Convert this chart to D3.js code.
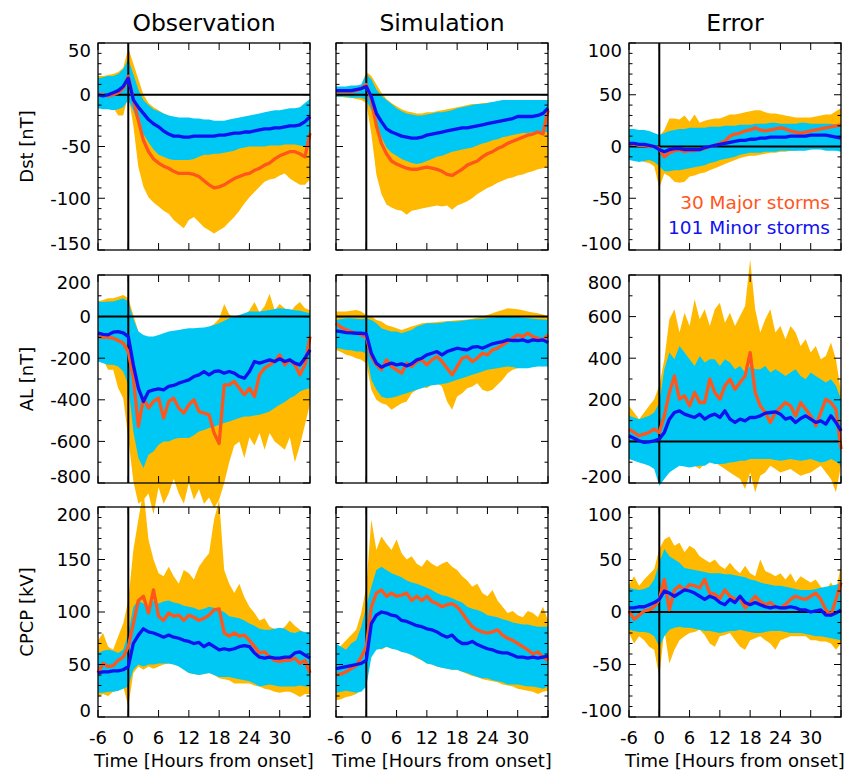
<!DOCTYPE html>
<html>
<head>
<meta charset="utf-8">
<script src="https://cdn.jsdelivr.net/npm/d3@7"></script>
<style>
  body { margin: 0; background: #fff; }
  text { font-family: "DejaVu Sans", sans-serif; }
</style>
</head>
<body>
<svg id="chart" width="850" height="771"></svg>
<script>
// hours from storm onset
const hours = [-6,-5,-4,-3,-2,-1,0,1,2,3,4,5,6,7,8,9,10,11,12,13,14,15,16,17,18,19,20,21,22,23,24,25,26,27,28,29,30,31,32,33,34,35,36];

// ---- Dst observation
const obsDstMinMed = [0,-1,0,2,4,8,16, -5,-12,-18,-24,-28,-31,-35,-38,-40,-40,-41,-41, -40,-40,-40,-40,-40,-39,-39,-38,-37,-37,-36,-36, -35,-34,-33,-33,-32,-32,-31,-30,-30,-29,-26,-21];
const obsDstMajMed = [0,0,-1,0,2,6,18, -5,-25,-44,-55,-62,-66,-69,-71,-74,-76,-76,-76, -77,-79,-83,-87,-90,-89,-87,-84,-81,-79,-77,-76, -73,-71,-68,-66,-62,-59,-57,-55,-55,-57,-60,-37];
const obsDstMinHi = [16,17,18,18,20,25,34, 20,5,-5,-10,-14,-16,-18,-20,-21,-22,-22,-22, -23,-23,-24,-24,-25,-25,-25,-24,-23,-22,-21,-20, -19,-18,-17,-16,-15,-15,-14,-13,-13,-12,-8,-4];
const obsDstMinLo = [-13,-14,-14,-15,-14,-12,-5, -15,-28,-38,-46,-53,-58,-60,-62,-63,-63,-63,-63, -62,-60,-58,-58,-57,-57,-56,-55,-54,-52,-51,-50, -50,-50,-50,-49,-49,-49,-48,-48,-48,-49,-50,-50];
const obsDstMajHi = [18,18,19,20,22,26,45, 30,15,0,-8,-12,-15,-18,-20,-22,-24,-25,-26, -27,-28,-29,-30,-31,-31,-30,-29,-28,-27,-26,-25, -24,-23,-22,-21,-20,-19,-18,-18,-17,-17,-12,-8];
const obsDstMajLo = [-5,-6,-8,-12,-20,-20,0, -30,-70,-89,-99,-104,-108,-112,-115,-121,-125,-129,-121, -118,-123,-128,-131,-134,-131,-128,-123,-118,-112,-105,-99, -94,-89,-84,-82,-81,-78,-76,-81,-84,-87,-87,-82];

// ---- Dst simulation
const simDstMinMed = [4,4,4,4,5,6,8, -2,-18,-26,-33,-36,-38,-40,-41,-42,-42,-41,-39, -38,-37,-36,-35,-34,-33,-32,-32,-31,-30,-29,-28, -27,-26,-25,-24,-23,-21,-21,-21,-21,-20,-18,-13];
const simDstMajMed = [3,3,3,3,4,6,10, -5,-30,-47,-57,-64,-67,-69,-71,-72,-72,-71,-70, -71,-72,-74,-77,-78,-75,-72,-68,-66,-64,-60,-57, -55,-52,-50,-47,-45,-43,-41,-39,-38,-36,-38,-15];
const simDstMinHi = [8,8,8,9,9,10,20, 15,5,-1,-5,-9,-13,-16,-18,-19,-20,-20,-19, -18,-17,-17,-16,-15,-13,-12,-11,-10,-9,-9,-8, -7,-6,-5,-5,-5,-5,-5,-5,-5,-5,-5,-5];
const simDstMinLo = [-2,-2,-2,-3,-3,-3,-5, -15,-28,-41,-51,-56,-59,-62,-64,-66,-67,-66,-64, -62,-60,-59,-57,-55,-54,-53,-52,-51,-49,-47,-46, -44,-43,-41,-40,-39,-38,-37,-37,-36,-36,-36,-36];
const simDstMajHi = [6,6,7,7,8,9,22, 18,10,2,-4,-8,-11,-14,-16,-17,-18,-18,-17, -17,-16,-15,-14,-13,-12,-11,-10,-9,-9,-8,-8, -7,-7,-6,-6,-6,-6,-6,-6,-6,-6,-6,-6];
const simDstMajLo = [-2,-2,-3,-3,-4,-5,-8, -38,-77,-96,-106,-109,-111,-112,-116,-112,-111,-110,-109, -108,-107,-108,-107,-111,-107,-105,-103,-100,-96,-93,-90, -88,-85,-83,-81,-80,-78,-77,-75,-74,-72,-71,-70];

// ---- Dst error
const errDstMinMed = [3,3,2,2,1,0,-3, -5,-3,-2,-2,-3,-3,-3,-3,-1,0,1,2, 3,4,5,6,6,7,7,8,8,9,9,9, 9,10,10,10,10,11,11,11,11,10,9,8];
const errDstMajMed = [3,2,1,1,0,0,-2, -10,-6,-4,-3,-5,-4,-4,-3,-2,0,1,3, 5,10,12,13,15,16,18,16,15,16,17,18, 17,15,14,13,14,15,16,17,18,19,20,21];
const errDstMinHi = [17,17,16,16,15,13,11, 13,15,16,17,17,18,18,18,18,19,19,19, 20,20,20,21,21,21,22,22,22,23,23,22, 22,22,22,23,23,22,22,22,22,22,21,21];
const errDstMinLo = [-13,-14,-15,-14,-13,-15,-19, -24,-24,-23,-23,-22,-21,-20,-19,-18,-16,-15,-13, -12,-11,-10,-8,-7,-6,-6,-6,-5,-5,-5,-4, -4,-4,-4,-4,-4,-3,-3,-3,-4,-4,-4,-5];
const errDstMajHi = [16,15,14,13,12,11,10, 16,27,27,26,30,24,31,23,25,26,27,27, 29,31,31,32,33,34,35,35,33,32,32,31, 30,29,28,28,28,28,29,30,31,31,34,37];
const errDstMajLo = [-11,-12,-13,-15,-16,-19,-40, -26,-29,-34,-35,-34,-29,-28,-26,-25,-23,-21,-19, -17,-15,-13,-11,-10,-9,-9,-8,-7,-6,-6,-5, -5,-4,-4,-3,-3,-3,-2,-2,-2,-1,-1,-2];

// ---- AL observation
const obsAlMinMed = [-80,-85,-88,-75,-72,-78,-96, -232,-344,-408,-360,-352,-347,-352,-336,-331,-320,-312,-304, -288,-280,-264,-280,-264,-261,-272,-264,-272,-288,-296,-264, -216,-224,-216,-208,-216,-203,-216,-208,-224,-232,-200,-160];
const obsAlMajMed = [-96,-100,-100,-104,-115,-128,-168, -296,-528,-392,-440,-408,-392,-488,-408,-392,-440,-464,-424, -400,-456,-464,-472,-560,-610,-328,-328,-312,-344,-376,-344, -384,-280,-248,-232,-216,-184,-232,-208,-232,-280,-232,-96];
const obsAlMinHi = [72,70,72,72,80,88,72, -10,-72,-88,-96,-96,-88,-80,-72,-68,-64,-60,-56, -56,-54,-52,-48,-40,-32,-20,-8,0,8,16,24, 24,24,28,32,36,40,38,35,30,28,22,16];
const obsAlMinLo = [-216,-224,-232,-232,-240,-264,-328, -552,-680,-728,-664,-648,-616,-600,-600,-590,-584,-584,-584, -570,-552,-545,-536,-530,-520,-512,-504,-496,-488,-480,-480, -475,-472,-465,-456,-440,-424,-410,-392,-380,-360,-350,-344];
const obsAlMajHi = [72,80,88,88,96,104,88, 8,-72,-104,-112,-115,-120,-118,-112,-104,-96,-92,-88, -80,-72,-60,-50,-35,-10,60,10,-10,-20,0,30, 70,20,50,110,30,60,40,20,50,70,40,30];
const obsAlMajLo = [-176,-208,-256,-256,-344,-392,-584, -792,-900,-880,-850,-950,-820,-900,-850,-780,-850,-900,-800, -880,-830,-900,-870,-920,-880,-800,-700,-620,-600,-680,-580, -620,-560,-640,-560,-600,-620,-640,-580,-700,-620,-520,-420];

// ---- AL simulation
const simAlMinMed = [-69,-72,-77,-78,-80,-80,-83, -176,-224,-243,-232,-224,-232,-227,-237,-227,-208,-200,-184, -176,-168,-184,-168,-160,-152,-157,-160,-147,-144,-152,-141, -131,-125,-120,-112,-115,-115,-112,-120,-112,-115,-112,-125];
const simAlMajMed = [-32,-51,-64,-72,-80,-88,-96, -192,-232,-256,-208,-240,-256,-272,-224,-240,-216,-208,-232, -208,-192,-216,-248,-280,-240,-200,-192,-216,-200,-176,-184, -160,-152,-136,-120,-104,-88,-96,-80,-96,-104,-112,-88];
const simAlMinHi = [-16,-12,-8,-8,-10,-13,-8, -16,-32,-56,-64,-72,-72,-80,-72,-64,-48,-40,-32, -32,-32,-30,-24,-24,-24,-20,-16,-14,-13,-12,-8, -6,-3,0,0,-3,-3,-5,-8,-10,-13,-14,-16];
const simAlMinLo = [-152,-155,-160,-162,-168,-168,-176, -304,-352,-384,-392,-390,-384,-376,-368,-360,-352,-344,-336, -330,-328,-324,-320,-312,-304,-296,-288,-280,-272,-264,-256, -252,-248,-244,-240,-242,-248,-248,-248,-244,-240,-240,-240];
const simAlMajHi = [24,24,24,28,32,24,8, 0,-16,-24,-40,-48,-56,-64,-56,-48,-40,-32,-30, -28,-26,-24,-22,-20,-18,-16,-14,-10,-6,0,8, 16,24,32,40,38,35,30,24,20,16,10,0];
const simAlMajLo = [-160,-170,-184,-190,-200,-208,-224, -352,-400,-416,-424,-448,-432,-416,-408,-368,-352,-336,-344, -328,-320,-336,-408,-448,-384,-368,-344,-336,-320,-352,-360, -352,-328,-304,-272,-256,-248,-240,-224,-232,-232,-240,-224];

// ---- AL error
const errAlMinMed = [27,15,3,-5,-2,3,11, 43,107,139,147,131,123,115,131,107,123,131,115, 147,107,91,107,99,115,115,123,136,139,142,131, 107,115,91,110,123,107,91,99,83,123,91,51];
const errAlMajMed = [59,43,27,35,43,59,43, 123,235,315,203,219,171,235,187,187,299,235,203, 267,299,251,283,315,427,235,171,139,91,139,163, 187,171,123,187,155,123,75,139,203,187,155,-37];
const errAlMinHi = [123,115,107,115,123,139,187, 347,427,395,459,427,395,363,411,379,395,395,363, 395,379,347,363,331,363,347,347,363,331,347,331, 315,331,347,315,299,331,315,299,283,299,267,203];
const errAlMinLo = [-85,-93,-101,-109,-117,-133,-213, -181,-149,-133,-117,-121,-125,-121,-117,-117,-101,-109,-109, -107,-101,-99,-93,-93,-85,-85,-85,-85,-85,-89,-93, -89,-85,-89,-93,-89,-85,-93,-101,-97,-85,-97,-117];
const errAlMajHi = [171,139,107,139,171,203,267, 395,587,635,523,619,555,683,587,635,555,635,667, 571,619,555,603,651,875,635,523,587,635,523,555, 491,555,523,459,491,427,459,395,411,475,395,235];
const errAlMajLo = [-53,-61,-69,-77,-85,-101,-181, -149,-117,-101,-85,-93,-101,-117,-133,-109,-85,-101,-117, -133,-149,-165,-181,-229,-149,-245,-165,-149,-117,-133,-149, -141,-133,-149,-165,-157,-149,-133,-117,-149,-181,-245,-117];

// ---- CPCP observation
const obsCpMinMed = [42,43,43,44,44,45,48, 70,78,84,81,80,78,76,78,76,75,73,72, 70,71,67,70,67,64,65,64,65,67,68,67, 61,57,56,57,56,56,57,57,61,62,59,56];
const obsCpMajMed = [42,51,48,49,54,57,67, 89,111,115,99,121,96,92,99,96,97,92,97, 95,92,94,97,102,103,80,77,80,77,78,73, 67,61,62,57,54,53,54,54,56,51,54,42];
const obsCpMinHi = [61,63,64,63,61,64,80, 105,111,108,105,111,108,110,111,109,108,106,105, 104,102,103,105,104,102,100,96,95,94,92,89, 87,84,83,83,84,85,84,81,80,82,81,80];
const obsCpMinLo = [23,23,24,24,25,27,29, 45,50,48,50,50,51,51,51,50,48,45,42, 41,40,41,42,40,38,38,38,37,36,35,34, 32,29,30,31,30,29,29,29,29,30,29,29];
const obsCpMajHi = [73,80,67,64,77,89,111, 159,188,216,169,150,137,134,143,134,127,140,137, 131,143,150,156,188,207,140,127,118,127,114,105, 99,92,94,86,84,83,86,92,87,83,80,76];
const obsCpMajLo = [19,22,20,24,25,29,10, 42,48,45,48,46,48,50,51,50,49,45,42, 41,40,41,42,40,37,36,35,32,32,32,32, 30,29,27,26,24,23,24,24,22,19,22,22];

// ---- CPCP simulation
const simCpMinMed = [46,47,48,49,50,51,54, 89,97,100,99,97,96,92,91,89,87,86,84, 83,81,78,76,78,73,70,70,72,69,67,65, 64,62,61,61,59,57,57,56,57,56,57,58];
const simCpMajMed = [40,41,43,46,49,57,67, 105,118,121,115,118,115,116,118,111,115,111,115, 110,108,105,107,108,105,99,92,86,83,81,80, 81,83,78,75,73,70,67,64,60,62,57,54];
const simCpMinHi = [70,67,64,70,73,86,105, 124,140,143,140,137,135,133,130,128,127,125,123, 121,118,116,115,113,111,109,105,103,102,100,97, 96,95,93,92,90,89,88,88,87,86,86,86];
const simCpMinLo = [23,24,25,24,23,24,29, 57,64,65,67,65,64,62,61,59,57,54,51, 50,48,47,46,45,45,43,42,40,38,37,37, 35,34,33,31,31,31,30,29,29,28,27,29];
const simCpMajHi = [64,68,73,78,83,99,124, 188,159,172,165,159,169,156,150,153,146,143,150, 146,143,146,148,143,140,134,130,124,127,118,115, 121,111,105,99,101,97,95,101,99,95,105,92];
const simCpMajLo = [16,17,19,20,22,26,38, 61,67,64,67,66,65,63,61,59,56,54,51, 50,48,47,46,45,45,43,41,39,38,36,35, 34,33,31,30,29,27,26,25,24,22,24,25];

// ---- CPCP error
const errCpMinMed = [4,4,5,5,7,9,12, 20,18,15,18,21,20,18,15,12,15,13,9, 7,12,9,15,9,7,9,7,5,4,5,4, 4,5,4,2,2,0,1,2,-3,-3,-1,2];
const errCpMajMed = [1,-7,-3,1,2,5,12, 31,2,21,25,21,26,25,23,31,18,17,13, 21,15,12,13,4,9,15,10,7,9,5,4, 7,12,15,13,12,15,18,12,2,-3,12,28];
const errCpMinHi = [23,22,21,22,24,31,47, 60,53,50,47,42,41,40,39,38,37,37,37, 36,36,35,34,33,31,30,28,27,26,25,25, 24,23,22,21,21,21,22,23,24,25,26,28];
const errCpMinLo = [-17,-18,-19,-19,-20,-23,-33, -23,-17,-15,-14,-15,-15,-16,-17,-18,-18,-19,-20, -19,-18,-18,-17,-18,-19,-20,-20,-19,-18,-18,-18, -19,-20,-20,-20,-21,-22,-23,-23,-24,-25,-26,-27];
const errCpMajHi = [26,34,25,31,36,41,60, 69,72,63,66,57,63,60,53,50,47,50,44, 41,47,41,37,44,37,34,50,39,37,34,37, 31,37,28,34,31,28,31,24,21,28,21,44];
const errCpMajLo = [-20,-30,-23,-27,-33,-36,-62, -17,-49,-36,-27,-23,-20,-19,-17,-22,-30,-33,-23, -22,-20,-27,-33,-36,-27,-25,-23,-27,-30,-36,-27, -25,-23,-23,-23,-23,-27,-27,-28,-28,-30,-36,-30];

// axis labels
const colTitles = ["Observation", "Simulation", "Error"];
const rowLabels = ["Dst [nT]", "AL [nT]", "CPCP [kV]"];
const xTickValues = [-6, 0, 6, 12, 18, 24, 30, 36];
const xTickLabels = ["-6", "0", "6", "12", "18", "24", "30", ""];
const legendLabels = ["30 Major storms", "101 Minor storms"];

// y axis set-up for each row (obs/sim share, error has its own)
const yAxes = [
  [ {domain: [-150, 50], major: 50, minor: 10}, {domain: [-150, 50], major: 50, minor: 10}, {domain: [-100, 100], major: 50, minor: 10} ],
  [ {domain: [-800, 200], major: 200, minor: 100}, {domain: [-800, 200], major: 200, minor: 100}, {domain: [-200, 800], major: 200, minor: 100} ],
  [ {domain: [0, 200], major: 50, minor: 10}, {domain: [0, 200], major: 50, minor: 10}, {domain: [-100, 100], major: 50, minor: 10} ]
];

const panelData = [
  [ [obsDstMajLo, obsDstMajHi, obsDstMinLo, obsDstMinHi, obsDstMajMed, obsDstMinMed],
    [simDstMajLo, simDstMajHi, simDstMinLo, simDstMinHi, simDstMajMed, simDstMinMed],
    [errDstMajLo, errDstMajHi, errDstMinLo, errDstMinHi, errDstMajMed, errDstMinMed] ],
  [ [obsAlMajLo, obsAlMajHi, obsAlMinLo, obsAlMinHi, obsAlMajMed, obsAlMinMed],
    [simAlMajLo, simAlMajHi, simAlMinLo, simAlMinHi, simAlMajMed, simAlMinMed],
    [errAlMajLo, errAlMajHi, errAlMinLo, errAlMinHi, errAlMajMed, errAlMinMed] ],
  [ [obsCpMajLo, obsCpMajHi, obsCpMinLo, obsCpMinHi, obsCpMajMed, obsCpMinMed],
    [simCpMajLo, simCpMajHi, simCpMinLo, simCpMinHi, simCpMajMed, simCpMinMed],
    [errCpMajLo, errCpMajHi, errCpMinLo, errCpMinHi, errCpMajMed, errCpMinMed] ]
];

const colX = [[98, 310], [336, 548], [629, 841]];
const rowY = [[43, 250], [275, 483], [507, 717]];

const majBand = "#ffb900";
const minBand = "#00c8f4";
const majLine = "#ff561c";
const minLine = "#1010f0";

const svg = d3.select("#chart");

function drawPanel(r, c) {
  const [lo1, hi1, lo2, hi2, med1, med2] = panelData[r][c];
  const ax = yAxes[r][c];
  const x = d3.scaleLinear().domain([-6, 36]).range(colX[c]);
  const y = d3.scaleLinear().domain(ax.domain).range([rowY[r][1], rowY[r][0]]);
  const g = svg.append("g");

  const band = (lo, hi) => d3.area()
    .x((d, i) => x(hours[i]))
    .y0((d, i) => y(lo[i]))
    .y1((d, i) => y(hi[i]));
  const line = vals => d3.line()
    .x((d, i) => x(hours[i]))
    .y((d, i) => y(vals[i]));

  g.append("path").attr("d", band(lo1, hi1)(hours)).attr("fill", majBand);
  g.append("path").attr("d", band(lo2, hi2)(hours)).attr("fill", minBand);

  // zero lines
  const [x0, x1] = colX[c];
  const [yt, yb] = rowY[r];
  if (ax.domain[0] < 0) {
    g.append("line").attr("x1", x0).attr("x2", x1).attr("y1", y(0)).attr("y2", y(0))
      .attr("stroke", "#000").attr("stroke-width", 2);
  }
  g.append("line").attr("x1", x(0)).attr("x2", x(0)).attr("y1", yt).attr("y2", yb)
    .attr("stroke", "#000").attr("stroke-width", 2);

  g.append("path").attr("d", line(med1)(hours)).attr("fill", "none")
    .attr("stroke", majLine).attr("stroke-width", 3.3).attr("stroke-linejoin", "round");
  g.append("path").attr("d", line(med2)(hours)).attr("fill", "none")
    .attr("stroke", minLine).attr("stroke-width", 3.3).attr("stroke-linejoin", "round");

  // frame
  g.append("rect").attr("x", x0).attr("y", yt).attr("width", x1 - x0).attr("height", yb - yt)
    .attr("fill", "none").attr("stroke", "#000").attr("stroke-width", 1.3);

  // y ticks (inward, both sides)
  const minorTicks = d3.range(ax.domain[0], ax.domain[1] + 0.001, ax.minor);
  const majorTicks = d3.range(ax.domain[0], ax.domain[1] + 0.001, ax.major);
  minorTicks.forEach(v => {
    const isMajor = majorTicks.includes(v);
    const len = isMajor ? 7 : 3.5;
    g.append("line").attr("x1", x0).attr("x2", x0 + len).attr("y1", y(v)).attr("y2", y(v))
      .attr("stroke", "#000").attr("stroke-width", 1);
    g.append("line").attr("x1", x1).attr("x2", x1 - len).attr("y1", y(v)).attr("y2", y(v))
      .attr("stroke", "#000").attr("stroke-width", 1);
  });
  if (c !== 1) {
    majorTicks.forEach(v => {
      const ty = Math.max(yt + 8, Math.min(yb - 6, y(v)));
      g.append("text").attr("x", x0 - 7).attr("y", ty).attr("dy", "0.35em")
        .attr("text-anchor", "end").attr("font-size", 18).text(String(v));
    });
  }

  // x ticks (inward, top and bottom)
  xTickValues.forEach((v, i) => {
    g.append("line").attr("x1", x(v)).attr("x2", x(v)).attr("y1", yb).attr("y2", yb - 7)
      .attr("stroke", "#000").attr("stroke-width", 1);
    g.append("line").attr("x1", x(v)).attr("x2", x(v)).attr("y1", yt).attr("y2", yt + 7)
      .attr("stroke", "#000").attr("stroke-width", 1);
    if (r === 2) {
      g.append("text").attr("x", x(v)).attr("y", 738).attr("dy", "0.35em")
        .attr("text-anchor", "middle").attr("font-size", 18).text(xTickLabels[i]);
    }
  });
  if (r === 2) {
    g.append("text").attr("x", (x0 + x1) / 2).attr("y", 761).attr("dy", "0.35em")
      .attr("text-anchor", "middle").attr("font-size", 18).text("Time [Hours from onset]");
  }
}

for (let r = 0; r < 3; r++) {
  for (let c = 0; c < 3; c++) drawPanel(r, c);
}

// column titles
colTitles.forEach((t, c) => {
  svg.append("text").attr("x", (colX[c][0] + colX[c][1]) / 2).attr("y", 23).attr("dy", "0.35em")
    .attr("text-anchor", "middle").attr("font-size", 23.5).text(t);
});

// row labels
rowLabels.forEach((t, r) => {
  const cy = (rowY[r][0] + rowY[r][1]) / 2;
  svg.append("text").attr("transform", `translate(27,${cy}) rotate(-90)`).attr("dy", "0.35em")
    .attr("text-anchor", "middle").attr("font-size", 18).text(t);
});

// legend in Dst error panel
svg.append("text").attr("x", 830).attr("y", 203).attr("dy", "0.35em").attr("text-anchor", "end")
  .attr("font-size", 18.5).attr("fill", majLine).text(legendLabels[0]);
svg.append("text").attr("x", 830).attr("y", 228).attr("dy", "0.35em").attr("text-anchor", "end")
  .attr("font-size", 18.5).attr("fill", minLine).text(legendLabels[1]);
</script>
</body>
</html>
